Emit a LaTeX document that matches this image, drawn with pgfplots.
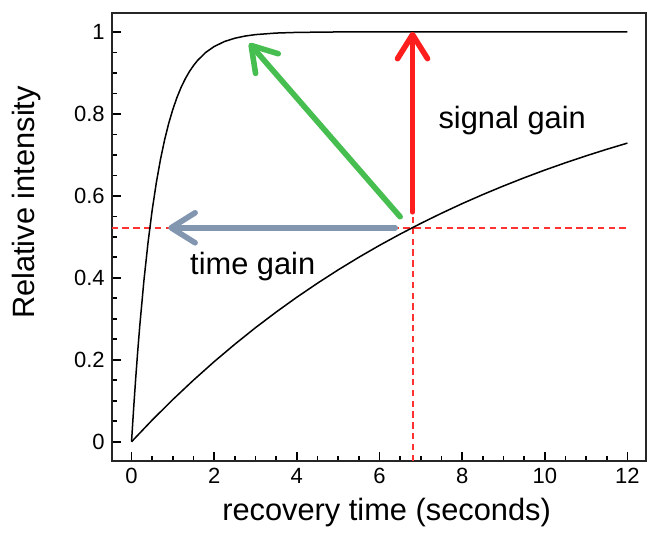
\documentclass[border=0pt]{standalone}
\usepackage{pgfplots}
\pgfplotsset{compat=1.18}
\usepackage{fontspec}
\setmainfont{Liberation Sans}
\usetikzlibrary{arrows.meta}
\definecolor{myred}{RGB}{255,30,30}
\definecolor{mygreen}{RGB}{70,190,80}
\definecolor{mygray}{RGB}{130,150,175}
\definecolor{dashred}{RGB}{255,50,50}
\begin{document}
\begin{tikzpicture}
\useasboundingbox (-55.85pt,-35.5pt) rectangle (267.65pt,230.5pt);
\begin{axis}[
  scale only axis, width=267.15pt, height=224pt,
  xmin=-0.48, xmax=12.45, ymin=-0.047, ymax=1.046,
  xtick={0,2,4,6,8,10,12}, ytick={0,0.2,0.4,0.6,0.8,1},
  minor x tick num=3, minor y tick num=3,
  xtick pos=bottom, ytick pos=left, tick align=inside,
  major tick length=4.5pt, minor tick length=2.5pt,
  every tick/.style={black, line width=0.8pt},
  axis line style={line width=0.9pt, black!85},
  tick label style={font=\fontsize{11}{13}\selectfont},
  /pgf/number format/assume math mode=true,
  xlabel={recovery time (seconds)}, ylabel={Relative intensity},
  label style={font=\fontsize{15.4}{18}\selectfont},
  xlabel style={at={(axis description cs:0.5145,-0.116)}, anchor=center},
  ylabel style={at={(axis description cs:-0.160,0.577)}, anchor=center, rotate=0},
  clip=false,
]
% red dashed guide lines
\addplot[draw=dashred, line width=1pt, dash pattern=on 3.2pt off 2.2pt] coordinates {(-0.48,0.522) (12,0.522)};
\addplot[draw=dashred, line width=1pt, dash pattern=on 3.2pt off 2.2pt] coordinates {(6.8,-0.047) (6.8,1.0)};
% fast recovery curve
\addplot[black, line width=0.75pt] coordinates {
(0,0) (0.05,0.0800) (0.1,0.1535) (0.15,0.2212) (0.2,0.2835) (0.3,0.3935) (0.4,0.4866) (0.5,0.5654)
(0.6,0.6321) (0.7,0.6886) (0.8,0.7364) (0.9,0.7769) (1.0,0.8111) (1.1,0.8401)
(1.2,0.8647) (1.3,0.8854) (1.4,0.9030) (1.5,0.9179) (1.6,0.9305) (1.8,0.9502) (2.0,0.9643)
(2.25,0.9765) (2.5,0.9845) (2.75,0.9898) (3.0,0.9933) (3.5,0.9971) (4.0,0.9987)
(5,0.9998) (6,1.0) (12,1.0)};
% slow recovery curve
\addplot[black, line width=0.75pt] coordinates {
(0,0) (0.5,0.0529) (1,0.1030) (1.5,0.1504) (2,0.1954) (2.5,0.2379) (3,0.2783)
(3.5,0.3164) (4,0.3526) (4.5,0.3868) (5,0.4193) (5.5,0.4500) (6,0.4791)
(6.5,0.5066) (7,0.5327) (7.5,0.5574) (8,0.5809) (8.5,0.6030) (9,0.6240)
(9.5,0.6439) (10,0.6628) (10.5,0.6806) (11,0.6975) (11.5,0.7135) (12,0.7286)};
% arrows
\addplot[mygray, line width=2.8pt, line cap=round, -{Straight Barb[length=12pt,width=15pt,round]}] coordinates {(6.38,0.522) (0.89,0.522)};
\addplot[mygreen, line width=2.8pt, line cap=round, -{Straight Barb[length=12pt,width=15pt,round]}] coordinates {(6.5,0.549) (2.85,0.972)};
\addplot[myred, line width=2.8pt, line cap=round, -{Straight Barb[length=12pt,width=15pt,round]}] coordinates {(6.8,0.561) (6.8,1.0)};
\node[anchor=base west, inner sep=0pt, font=\fontsize{15.4}{18}\selectfont] at (axis cs:7.42,0.764) {signal gain};
\node[anchor=base west, inner sep=0pt, font=\fontsize{15.4}{18}\selectfont] at (axis cs:1.41,0.407) {time gain};
\end{axis}
\end{tikzpicture}
\end{document}
